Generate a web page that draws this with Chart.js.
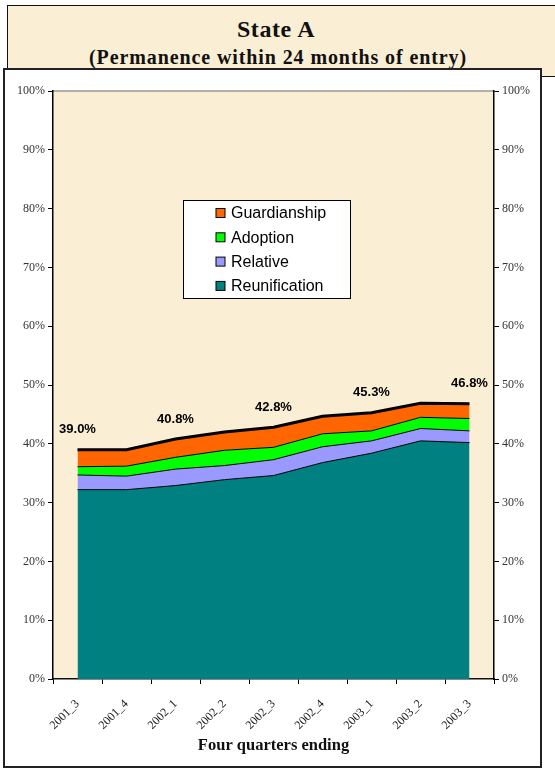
<!DOCTYPE html>
<html>
<head>
<meta charset="utf-8">
<script src="https://cdn.jsdelivr.net/npm/chart.js@4"></script>
<style>
  body { margin: 0; background: #fff; width: 555px; height: 768px; overflow: hidden; position: relative; }
  #titleBox {
    position: absolute; left: 7px; top: 5px; width: 600px; height: 72px;
    border: 1.5px solid #111; box-sizing: border-box;
    background: #FAEFD4;
    font-family: "Liberation Serif", "DejaVu Serif", serif; font-weight: bold; color: #111;
    text-align: center;
  }
  #titleBox .t1 { position: absolute; left: 0; width: 536px; top: 10px; font-size: 24px; letter-spacing: 0.6px; }
  #titleBox .t2 { position: absolute; left: 0; width: 540px; top: 40px; font-size: 20px; letter-spacing: 0.9px; }
  #chartBox {
    position: absolute; left: 3px; top: 68px; width: 539px; height: 700px;
    border: 2px solid #222; box-sizing: border-box; background: #fff;
  }
  #chart1 { position: absolute; left: 0; top: 0; }
</style>
</head>
<body>
<div id="titleBox">
  <div class="t1">State A</div>
  <div class="t2">(Permanence within 24 months of entry)</div>
</div>
<div id="chartBox">
  <canvas id="chart1" width="535" height="696"></canvas>
</div>
<script>
const quarters = ['2001_3', '2001_4', '2002_1', '2002_2', '2002_3', '2002_4', '2003_1', '2003_2', '2003_3'];

const reunification = [32.2, 32.2, 32.9, 33.9, 34.6, 36.8, 38.4, 40.5, 40.2];
const relative      = [2.5, 2.3, 2.8, 2.4, 2.7, 2.7, 2.1, 2.1, 2.0];
const adoption      = [1.4, 1.7, 2.0, 2.6, 2.1, 2.2, 1.7, 1.9, 2.1];
const guardianship  = [2.9, 2.8, 3.1, 3.1, 3.4, 3.0, 3.1, 2.4, 2.5];

// total labels shown above every other quarter
const totalLabels = ['39.0%', null, '40.8%', null, '42.8%', null, '45.3%', null, '46.8%'];

const yTicks = [0, 10, 20, 30, 40, 50, 60, 70, 80, 90, 100];

const parchment = '#FAEFD4';
const serif = '"Liberation Serif", "DejaVu Serif", serif';
const sans = '"Liberation Sans", Arial, sans-serif';

const plotBg = {
  id: 'plotBg',
  beforeDraw(chart) {
    const { ctx, chartArea: a } = chart;
    ctx.save();
    ctx.fillStyle = parchment;
    ctx.fillRect(a.left, a.top, a.right - a.left, a.bottom - a.top);
    ctx.strokeStyle = '#999';
    ctx.lineWidth = 1.5;
    ctx.beginPath();
    ctx.moveTo(a.left, a.top);
    ctx.lineTo(a.right, a.top);
    ctx.stroke();
    ctx.restore();
  }
};

const totalsPlugin = {
  id: 'totals',
  afterDatasetsDraw(chart) {
    const { ctx } = chart;
    const top = chart.getDatasetMeta(chart.data.datasets.length - 1);
    ctx.save();
    ctx.font = 'bold 13px ' + sans;
    ctx.fillStyle = '#000';
    ctx.textAlign = 'center';
    ctx.textBaseline = 'middle';
    totalLabels.forEach((lbl, i) => {
      if (!lbl) return;
      const pt = top.data[i];
      ctx.fillText(lbl, pt.x, pt.y - 20);
    });
    ctx.restore();
  }
};

const boxLegend = {
  id: 'boxLegend',
  afterDatasetsDraw(chart) {
    const { ctx, chartArea: a } = chart;
    const x = a.left + 130, y = a.top + 109, w = 167, h = 98;
    ctx.save();
    ctx.fillStyle = '#fff';
    ctx.fillRect(x, y, w, h);
    ctx.strokeStyle = '#000';
    ctx.lineWidth = 1;
    ctx.strokeRect(x + 0.5, y + 0.5, w, h);
    ctx.font = '16px ' + sans;
    ctx.textBaseline = 'middle';
    const ds = chart.data.datasets.slice().reverse();
    ds.forEach((d, i) => {
      const cy = y + 13 + i * 24.3;
      ctx.fillStyle = d.backgroundColor;
      ctx.fillRect(x + 33, cy - 4.5, 9, 9);
      ctx.strokeStyle = '#000';
      ctx.strokeRect(x + 33, cy - 4.5, 9, 9);
      ctx.fillStyle = '#000';
      ctx.fillText(d.label, x + 48, cy + 1);
    });
    ctx.restore();
  }
};

function makeDataset(label, data, color, fill, width) {
  return {
    label: label,
    data: data,
    backgroundColor: color,
    borderColor: '#000',
    borderWidth: width,
    fill: fill,
    pointRadius: 0,
    tension: 0
  };
}

document.addEventListener('DOMContentLoaded', function () {
  const chartCanvas = document.getElementById('chart1');
  const tickFont = { family: serif, size: 12 };

  new Chart(chartCanvas.getContext('2d'), {
    type: 'line',
    data: {
      labels: quarters,
      datasets: [
        makeDataset('Reunification', reunification, '#008080', 'origin', 1),
        makeDataset('Relative', relative, '#9999FF', '-1', 1),
        makeDataset('Adoption', adoption, '#00FF00', '-1', 1),
        makeDataset('Guardianship', guardianship, '#FF6600', '-1', 3)
      ]
    },
    options: {
      responsive: false,
      animation: false,
      layout: { padding: { top: 21, left: 0, right: 0, bottom: 0 } },
      plugins: {
        legend: { display: false },
        tooltip: { enabled: false }
      },
      scales: {
        x: {
          type: 'category',
          offset: true,
          grid: { display: true, offset: true, drawOnChartArea: false, drawTicks: true, tickLength: 5, color: '#000' },
          border: { display: true, color: '#111', width: 1.5 },
          ticks: { font: { family: serif, size: 12 }, color: '#222', maxRotation: 45, minRotation: 45, padding: 13, autoSkip: false },
          title: {
            display: true, text: 'Four quarters ending', color: '#111',
            font: { family: serif, size: 16.5, weight: 'bold' },
            padding: { top: 0, bottom: 10 }
          },
          afterFit(scale) { scale.height = 87; }
        },
        y: {
          stacked: true,
          min: 0, max: 100,
          afterBuildTicks(scale) { scale.ticks = yTicks.map(v => ({ value: v })); },
          grid: { drawOnChartArea: false, drawTicks: true, tickLength: 5, color: '#000' },
          border: { display: true, color: '#000', width: 1.5 },
          ticks: { font: tickFont, color: '#333', padding: 3, callback: v => v + '%' },
          afterFit(scale) { scale.width = 48; }
        },
        y2: {
          position: 'right',
          min: 0, max: 100,
          afterBuildTicks(scale) { scale.ticks = yTicks.map(v => ({ value: v })); },
          grid: { drawOnChartArea: false, drawTicks: true, tickLength: 5, color: '#000' },
          border: { display: true, color: '#000', width: 1.5 },
          ticks: { font: tickFont, color: '#333', padding: 3, callback: v => v + '%' },
          afterFit(scale) { scale.width = 46; }
        }
      }
    },
    plugins: [plotBg, totalsPlugin, boxLegend]
  });
});
</script>
</body>
</html>
